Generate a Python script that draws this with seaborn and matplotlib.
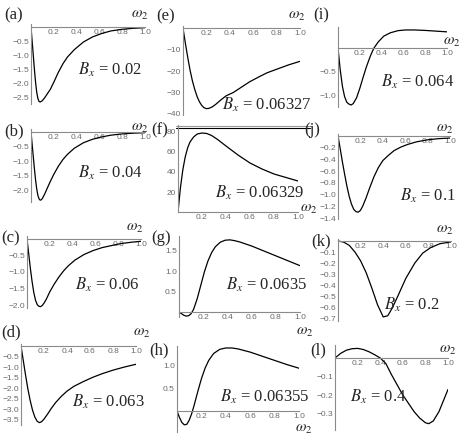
import numpy as np
import pandas as pd
import seaborn as sns
import matplotlib.pyplot as plt
from matplotlib.ticker import AutoMinorLocator

# curves, x = omega_2
a_x = [0, 0.01, 0.02, 0.03, 0.04, 0.05, 0.06, 0.07, 0.08, 0.09, 0.1, 0.12, 0.14, 0.17, 0.2, 0.24, 0.28, 0.32, 0.38, 0.46, 0.54, 0.62, 0.7, 0.8, 0.9, 1.0]
a_y = [0, -0.5, -1.0, -1.5, -1.95, -2.3, -2.52, -2.63, -2.65, -2.63, -2.6, -2.5, -2.38, -2.2, -1.95, -1.6, -1.3, -1.06, -0.8, -0.53, -0.35, -0.23, -0.14, -0.08, -0.045, -0.025]

b_x = [0, 0.01, 0.02, 0.03, 0.04, 0.05, 0.06, 0.07, 0.08, 0.09, 0.1, 0.12, 0.14, 0.17, 0.2, 0.24, 0.28, 0.32, 0.38, 0.46, 0.54, 0.62, 0.7, 0.8, 0.9, 1.0]
b_y = [0, -0.42, -0.85, -1.27, -1.65, -1.96, -2.18, -2.3, -2.35, -2.34, -2.29, -2.14, -1.96, -1.7, -1.46, -1.18, -0.95, -0.77, -0.56, -0.37, -0.25, -0.17, -0.11, -0.065, -0.04, -0.025]

c_x = [0, 0.015, 0.03, 0.045, 0.06, 0.075, 0.09, 0.105, 0.12, 0.135, 0.15, 0.17, 0.2, 0.24, 0.28, 0.32, 0.36, 0.42, 0.5, 0.58, 0.66, 0.74, 0.82, 0.91, 1.0]
c_y = [0, -0.45, -0.9, -1.3, -1.63, -1.86, -1.99, -2.04, -2.05, -2.01, -1.94, -1.82, -1.6, -1.36, -1.15, -0.97, -0.82, -0.64, -0.47, -0.35, -0.26, -0.2, -0.14, -0.1, -0.07]

d_x = [0, 0.02, 0.04, 0.06, 0.08, 0.1, 0.12, 0.14, 0.16, 0.18, 0.2, 0.23, 0.26, 0.3, 0.35, 0.4, 0.46, 0.54, 0.62, 0.7, 0.8, 0.9, 1.0]
d_y = [0, -0.7, -1.4, -2.05, -2.6, -3.05, -3.38, -3.58, -3.65, -3.6, -3.48, -3.25, -3.0, -2.7, -2.4, -2.15, -1.92, -1.7, -1.5, -1.33, -1.15, -1.0, -0.87]

e_x = [0, 0.02, 0.04, 0.06, 0.08, 0.1, 0.12, 0.14, 0.16, 0.18, 0.2, 0.22, 0.25, 0.28, 0.32, 0.37, 0.43, 0.5, 0.57, 0.65, 0.72, 0.8, 0.9, 1.0]
e_y = [0, -7, -13.5, -19.5, -24.5, -28.5, -31.8, -34.3, -36.0, -37.1, -37.5, -37.4, -36.7, -35.5, -33.6, -31.5, -30.0, -27.5, -25.0, -22.7, -20.8, -19.2, -17.2, -15.5]

f_x = [0, 0.01, 0.02, 0.04, 0.06, 0.08, 0.1, 0.13, 0.16, 0.2, 0.24, 0.28, 0.33, 0.4, 0.5, 0.6, 0.7, 0.8, 0.9, 1.0]
f_y = [0, 12, 24, 42, 55, 64, 70, 75, 78, 79, 78.5, 76.5, 72.5, 66, 57, 49, 43, 38, 34.5, 31]
f_top_lines = [84.0, 86.0]

g_x = [0, 0.02, 0.04, 0.06, 0.08, 0.1, 0.12, 0.15, 0.18, 0.21, 0.24, 0.27, 0.3, 0.34, 0.38, 0.42, 0.46, 0.5, 0.6, 0.7, 0.8, 0.9, 1.0]
g_y = [0, -0.04, -0.08, -0.1, -0.09, -0.04, 0.06, 0.32, 0.65, 0.98, 1.25, 1.45, 1.59, 1.7, 1.75, 1.76, 1.74, 1.71, 1.61, 1.49, 1.37, 1.25, 1.13]

h_x = [0, 0.02, 0.04, 0.06, 0.08, 0.1, 0.12, 0.14, 0.17, 0.2, 0.23, 0.26, 0.3, 0.35, 0.4, 0.45, 0.5, 0.6, 0.7, 0.8, 0.9, 1.0]
h_y = [0, -0.14, -0.25, -0.3, -0.29, -0.2, -0.06, 0.12, 0.42, 0.7, 0.93, 1.1, 1.25, 1.34, 1.37, 1.37, 1.35, 1.28, 1.19, 1.1, 1.01, 0.93]

i_x = [0, 0.02, 0.04, 0.06, 0.08, 0.1, 0.12, 0.14, 0.17, 0.2, 0.23, 0.26, 0.3, 0.33, 0.37, 0.42, 0.48, 0.55, 0.62, 0.7, 0.8, 0.9, 1.0]
i_y = [0, -0.45, -0.8, -1.02, -1.14, -1.18, -1.2, -1.17, -1.05, -0.85, -0.62, -0.4, -0.15, 0.0, 0.13, 0.25, 0.32, 0.365, 0.38, 0.38, 0.37, 0.355, 0.34]

j_x = [0, 0.02, 0.04, 0.06, 0.08, 0.1, 0.12, 0.14, 0.16, 0.18, 0.2, 0.22, 0.25, 0.28, 0.32, 0.36, 0.4, 0.45, 0.5, 0.56, 0.62, 0.7, 0.8, 0.9, 1.0]
j_y = [0, -0.22, -0.45, -0.66, -0.86, -1.03, -1.16, -1.25, -1.29, -1.3, -1.27, -1.2, -1.06, -0.9, -0.7, -0.54, -0.42, -0.33, -0.25, -0.19, -0.145, -0.1, -0.065, -0.045, -0.035]

k_x = [0, 0.05, 0.1, 0.15, 0.2, 0.25, 0.3, 0.35, 0.4, 0.44, 0.48, 0.53, 0.6, 0.68, 0.75, 0.82, 0.9, 1.0]
k_y = [0, -0.01, -0.04, -0.1, -0.18, -0.29, -0.43, -0.58, -0.69, -0.68, -0.61, -0.5, -0.34, -0.2, -0.11, -0.06, -0.025, -0.008]

l_x = [0, 0.05, 0.1, 0.15, 0.2, 0.25, 0.3, 0.35, 0.4, 0.45, 0.5, 0.55, 0.6, 0.65, 0.7, 0.75, 0.8, 0.83, 0.87, 0.92, 0.96, 1.0]
l_y = [0, 0.025, 0.042, 0.05, 0.052, 0.046, 0.034, 0.018, 0.0, -0.03, -0.09, -0.145, -0.2, -0.245, -0.29, -0.325, -0.35, -0.355, -0.34, -0.29, -0.23, -0.17]

bx_values = ["0.02", "0.04", "0.06", "0.063", "0.06327", "0.06329", "0.0635", "0.06355", "0.064", "0.1", "0.2", "0.4"]
panel_names = ["(a)", "(b)", "(c)", "(d)", "(e)", "(f)", "(g)", "(h)", "(i)", "(j)", "(k)", "(l)"]

x_ticks = [0.2, 0.4, 0.6, 0.8, 1.0]
a_yticks = [-0.5, -1.0, -1.5, -2.0, -2.5]
b_yticks = [-0.5, -1.0, -1.5, -2.0]
c_yticks = [-0.5, -1.0, -1.5, -2.0]
d_yticks = [-0.5, -1.0, -1.5, -2.0, -2.5, -3.0, -3.5]
e_yticks = [-10, -20, -30, -40]
f_yticks = [20, 40, 60, 80]
g_yticks = [0.5, 1.0, 1.5]
h_yticks = [0.5, 1.0]
i_yticks = [-0.5, -1.0]
j_yticks = [-0.2, -0.4, -0.6, -0.8, -1.0, -1.2, -1.4]
k_yticks = [-0.1, -0.2, -0.3, -0.4, -0.5, -0.6, -0.7]
l_yticks = [-0.1, -0.2, -0.3]

sns.set_style("white")
plt.rcParams["mathtext.fontset"] = "stix"
plt.rcParams["font.family"] = ["Liberation Serif", "DejaVu Serif"]

W, H = 463, 436
fig = plt.figure(figsize=(W / 100, H / 100), dpi=100)

axis_gray = "#8a8a8a"
label_gray = "#6a6a6a"


def tick_text(v, dec):
    s = f"{abs(v):.{dec}f}"
    return "\u2212" + s if v < 0 else s


def panel(x, y, yticks, dec, x0, x1, y0, ppu, ylo, yhi):
    # pixel layout -> figure fraction
    top = y0 - ppu * yhi
    bot = y0 - ppu * ylo
    ax = fig.add_axes([x0 / W, 1 - bot / H, (x1 - x0) / W, (bot - top) / H])
    ax.patch.set_alpha(0)
    sns.lineplot(x=x, y=y, ax=ax, color="black", linewidth=0.9)
    ax.set_xlim(0, 1.0)
    ax.set_ylim(ylo, yhi)
    ax.spines["top"].set_visible(False)
    ax.spines["right"].set_visible(False)
    ax.spines["left"].set_position(("data", 0))
    ax.spines["bottom"].set_position(("data", 0))
    for s in ["left", "bottom"]:
        ax.spines[s].set_color(axis_gray)
        ax.spines[s].set_linewidth(0.8)
    ax.set_xticks(x_ticks)
    ax.set_xticklabels([tick_text(v, 1) for v in x_ticks], fontfamily="Liberation Sans")
    ax.set_yticks(yticks)
    ax.set_yticklabels([tick_text(v, dec) for v in yticks], fontfamily="Liberation Sans")
    ax.xaxis.set_minor_locator(AutoMinorLocator(4))
    ax.yaxis.set_minor_locator(AutoMinorLocator(5))
    ax.tick_params(which="both", direction="in", colors=axis_gray, labelcolor=label_gray,
                   labelsize=6, pad=1.5)
    ax.tick_params(which="major", length=2.5, width=0.6)
    ax.tick_params(which="minor", length=1.3, width=0.5)
    ax.set_xlabel("")
    ax.set_ylabel("")
    return ax


panel(a_x, a_y, a_yticks, 1, 31, 145, 27, 28.3, -2.72, 0.1)
panel(b_x, b_y, b_yticks, 1, 31, 145, 132, 29, -2.4, 0.1)
panel(c_x, c_y, c_yticks, 1, 27, 141, 239, 33, -2.1, 0.1)
panel(d_x, d_y, d_yticks, 1, 21, 136, 346, 21, -3.75, 0.1)
panel(e_x, e_y, e_yticks, 0, 183, 300, 28, 2.15, -40.5, 1)
ax_f = panel(f_x, f_y, f_yticks, 0, 178, 298, 212, 1.0, 0, 86.5)
panel(g_x, g_y, g_yticks, 1, 179, 300, 312, 41, -0.13, 1.85)
panel(h_x, h_y, h_yticks, 1, 177, 299, 411, 46, -0.46, 1.42)
panel(i_x, i_y, i_yticks, 1, 338, 447, 48, 47.5, -1.25, 0.45)
panel(j_x, j_y, j_yticks, 1, 338, 450, 136, 58.6, -1.42, 0.03)
panel(k_x, k_y, k_yticks, 1, 338, 451, 241, 110, -0.73, 0.02)
panel(l_x, l_y, l_yticks, 1, 335, 448, 358, 185, -0.39, 0.07)

ax_f.axhline(f_top_lines[0], xmin=-0.02, xmax=1.1, color="black", lw=0.8, clip_on=False)
ax_f.axhline(f_top_lines[1], xmin=-0.02, xmax=1.1, color="#999999", lw=0.8, clip_on=False)

# panel letters (left edge in px)
name_pos = [(4, 15), (4, 131), (1, 238), (1, 332), (156, 16), (151, 130),
            (151, 238), (149, 350), (313, 15), (304, 130), (311, 241), (310, 350)]
for name, (px, py) in zip(panel_names, name_pos):
    fig.text(px / W, 1 - py / H, name, ha="left", va="center", fontsize=12)

# B_x annotations
bx_pos = [(110, 70), (110, 173), (107, 285), (108, 402), (267, 105), (260, 193),
          (267, 285), (265, 397), (418, 82), (428, 196), (412, 305), (378, 397)]
for val, (px, py) in zip(bx_values, bx_pos):
    fig.text(px / W, 1 - py / H, r"$B_x$ = " + val, ha="center", va="center", fontsize=12)

# omega_2 axis labels
om_pos = [(140, 15), (140, 128), (135, 228), (142, 333), (297, 16), (309, 209),
          (305, 332), (304, 429), (452, 42), (445, 129), (445, 230), (448, 350)]
for px, py in om_pos:
    fig.text(px / W, 1 - py / H, r"$\omega_2$", ha="center", va="center", fontsize=11)

fig.savefig("out.png", dpi=100)
